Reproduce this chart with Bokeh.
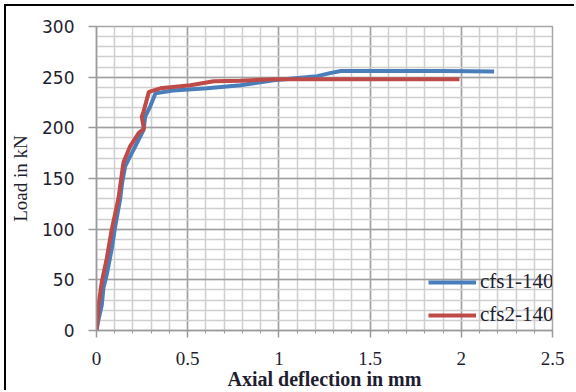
from bokeh.plotting import figure
from bokeh.models import Range1d, FixedTicker, Legend, LegendItem
from bokeh.embed import file_html
from bokeh.resources import INLINE

# ---- data ----
cfs1_x = [0, 0.01, 0.029, 0.038, 0.056, 0.084, 0.10, 0.13, 0.14, 0.157, 0.185, 0.23, 0.258,
          0.267, 0.294, 0.323, 0.42, 0.607, 0.79, 0.97, 1.12, 1.21, 1.28, 1.34, 1.6, 1.9, 2.18]
cfs1_y = [0, 10, 25, 42, 55, 81, 100, 130, 145, 162, 172, 188, 198,
          211, 221, 234, 236.8, 239, 242, 247, 249.5, 251, 254, 256, 256, 256, 255.5]

cfs2_x = [0, 0.005, 0.011, 0.029, 0.056, 0.084, 0.12, 0.148, 0.185, 0.232, 0.26, 0.248,
          0.258, 0.287, 0.35, 0.515, 0.643, 0.79, 0.97, 1.2, 1.6, 1.99]
cfs2_y = [0, 10, 25, 48, 71, 100, 130, 166, 182, 195, 199, 211,
          216, 235.5, 239, 242, 246, 246.5, 248, 248, 248, 248]

series_names = ["cfs1-140", "cfs2-140"]
x_ticks = [0, 0.5, 1, 1.5, 2, 2.5]
x_tick_labels = ["0", "0.5", "1", "1.5", "2", "2.5"]
y_ticks = [0, 50, 100, 150, 200, 250, 300]
y_tick_labels = ["0", "50", "100", "150", "200", "250", "300"]

BLUE = "#4A7EBB"
RED = "#BE4B48"

# the picture has a black frame offset 4px from the window's top-left corner
p = figure(width=570, height=386, output_backend="svg", toolbar_location=None,
           x_range=Range1d(0, 2.5), y_range=Range1d(0, 300),
           min_border_left=90, min_border_right=24, min_border_top=20, min_border_bottom=59,
           styles={"margin-left": "4px", "margin-top": "4px",
                   "border-left": "2px solid black", "border-top": "2px solid black"})
p.background_fill_color = "white"
p.border_fill_color = "white"
p.outline_line_color = "#A6A6A6"
p.outline_line_width = 1.5

# grids
for g in (p.xgrid, p.ygrid):
    g.grid_line_color = "#A0A0A0"
    g.grid_line_width = 1.5
    g.minor_grid_line_color = "#CFCFCF"
    g.minor_grid_line_width = 1.5

p.xaxis.ticker = FixedTicker(ticks=x_ticks,
                             minor_ticks=[i / 10 for i in range(0, 26)])
p.yaxis.ticker = FixedTicker(ticks=y_ticks,
                             minor_ticks=list(range(0, 301, 10)))
p.xaxis.major_label_overrides = {t: l for t, l in zip(x_ticks, x_tick_labels)}
p.yaxis.major_label_overrides = {t: l for t, l in zip(y_ticks, y_tick_labels)}

for ax in (p.xaxis, p.yaxis):
    ax.axis_line_color = "#9A9A9A"
    ax.axis_line_width = 1.5
    ax.major_tick_line_color = "#9A9A9A"
    ax.major_tick_line_width = 1.5
    ax.minor_tick_line_color = "#9A9A9A"
    ax.major_tick_in = 0
    ax.minor_tick_in = 0
    ax.major_label_text_color = "#1E1E30"
    ax.axis_label_text_color = "#1E1E30"

p.xaxis.axis_label_text_font_style = "bold"
p.yaxis.axis_label_text_font_style = "normal"

p.xaxis.major_tick_out = 7
p.xaxis.minor_tick_out = 3
p.yaxis.major_tick_out = 8
p.yaxis.minor_tick_out = 0

p.yaxis.major_label_text_font = "DejaVu Sans"
p.yaxis.major_label_text_font_size = "17px"
p.yaxis.major_label_standoff = 14
p.xaxis.major_label_text_font = "Liberation Serif"
p.xaxis.major_label_text_font_size = "19px"
p.xaxis.major_label_standoff = 14

p.xaxis.axis_label = "Axial deflection in mm"
p.xaxis.axis_label_text_font = "Liberation Serif"
p.xaxis.axis_label_text_font_size = "20px"
p.xaxis.axis_label_standoff = 0
p.yaxis.axis_label = "Load in kN"
p.yaxis.axis_label_text_font = "Liberation Serif"
p.yaxis.axis_label_text_font_size = "19px"
p.yaxis.axis_label_standoff = 8

r1 = p.line(cfs1_x, cfs1_y, line_color=BLUE, line_width=4)
r2 = p.line(cfs2_x, cfs2_y, line_color=RED, line_width=4)

legend = Legend(items=[LegendItem(label=series_names[0], renderers=[r1]),
                       LegendItem(label=series_names[1], renderers=[r2])],
                location=(332, 3))
legend.background_fill_alpha = 0
legend.border_line_color = None
legend.padding = 0
legend.margin = 0
legend.spacing = 8
legend.glyph_width = 48
legend.glyph_height = 22
legend.label_height = 22
legend.label_standoff = 4
legend.label_text_font = "Liberation Serif"
legend.label_text_font_size = "21px"
legend.label_text_color = "#1E1E30"
p.add_layout(legend)

open("out.html", "w").write(file_html(p, INLINE))
